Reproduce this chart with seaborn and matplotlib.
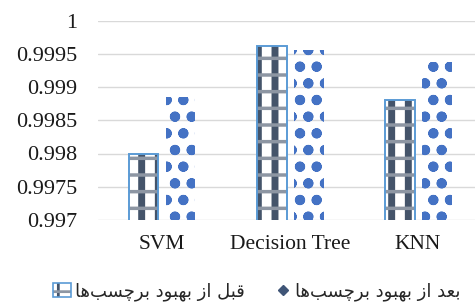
import matplotlib
matplotlib.use("Agg")
import matplotlib.pyplot as plt
import seaborn as sns
import pandas as pd
from matplotlib.patches import Rectangle, Patch
from matplotlib.lines import Line2D
from matplotlib.legend_handler import HandlerTuple

# data
models = ["SVM", "Decision Tree", "KNN"]
before = [0.9980, 0.99961, 0.99881]
after = [0.99885, 0.99955, 0.99937]
series_names = ["قبل از بهبود برچسب‌ها", "بعد از بهبود برچسب‌ها"]
y_ticks = [0.997, 0.9975, 0.998, 0.9985, 0.999, 0.9995, 1.0]

DARK = "#44546A"
EDGE = "#5B9BD5"
DOTS = "#4472C4"
BAND = "#8d96a3"

# minimal Persian shaping (matplotlib has no complex text layout)
FORMS = {  # isolated, final, initial, medial
    "ا": ("\ufe8d", "\ufe8e", None, None),
    "ب": ("\ufe8f", "\ufe90", "\ufe91", "\ufe92"),
    "د": ("\ufea9", "\ufeaa", None, None),
    "ر": ("\ufead", "\ufeae", None, None),
    "ز": ("\ufeaf", "\ufeb0", None, None),
    "س": ("\ufeb1", "\ufeb2", "\ufeb3", "\ufeb4"),
    "ع": ("\ufec9", "\ufeca", "\ufecb", "\ufecc"),
    "ق": ("\ufed5", "\ufed6", "\ufed7", "\ufed8"),
    "ل": ("\ufedd", "\ufede", "\ufedf", "\ufee0"),
    "ه": ("\ufee9", "\ufeea", "\ufeeb", "\ufeec"),
    "و": ("\ufeed", "\ufeee", None, None),
    "چ": ("\ufb7a", "\ufb7b", "\ufb7c", "\ufb7d"),
}


def shape(text):
    out = []
    for i, ch in enumerate(text):
        if ch not in FORMS:
            if ch != "\u200c":
                out.append(ch)
            continue
        prev = text[i - 1] if i > 0 else ""
        nxt = text[i + 1] if i + 1 < len(text) else ""
        jp = prev in FORMS and FORMS[prev][2] is not None
        jn = FORMS[ch][2] is not None and nxt in FORMS
        iso, fin, ini, med = FORMS[ch]
        if jp and jn:
            out.append(med)
        elif jp:
            out.append(fin)
        elif jn:
            out.append(ini)
        else:
            out.append(iso)
    return "".join(out[::-1])


def hatch_lw(p, lw):
    if hasattr(p, "set_hatch_linewidth"):
        p.set_hatch_linewidth(lw)
    return p


sns.set_style("white")
plt.rcParams["font.family"] = ["Liberation Serif", "DejaVu Sans"]
plt.rcParams["hatch.linewidth"] = 2.0

df = pd.DataFrame({
    "model": models * 2,
    "value": before + after,
    "series": [series_names[0]] * 3 + [series_names[1]] * 3,
})

fig = plt.figure(figsize=(4.75, 3.07), dpi=100)
ax = fig.add_axes([98 / 475, 87 / 307, 377 / 475, 199.5 / 307])

sns.barplot(data=df, x="model", y="value", hue="series", order=models,
            hue_order=series_names, palette=["white", "white"],
            width=0.578, gap=0.19, legend=False, ax=ax, zorder=2)

# checker look for "before": dark stripes + grey bands + blue outline
for p in ax.containers[0]:
    p.set_facecolor("white")
    p.set_edgecolor(DARK)
    p.set_linewidth(0)
    p.set_hatch("|")
    hatch_lw(p, 5.0)
    x, y = p.get_xy()
    w, h = p.get_width(), p.get_height()
    band = Rectangle((x, y), w, h, facecolor="none", edgecolor=BAND,
                     linewidth=0, hatch="-", zorder=2.1)
    ax.add_patch(hatch_lw(band, 2.5))
    ax.add_patch(Rectangle((x, y), w, h, facecolor="none", edgecolor=EDGE,
                           linewidth=1.4, zorder=2.2))

# dotted look for "after"
for p in ax.containers[1]:
    p.set_facecolor("none")
    p.set_edgecolor(DOTS)
    p.set_linewidth(0)
    p.set_hatch("o.")
    hatch_lw(p, 2.6)

ax.set_xlim(-0.5, 2.445)
ax.set_ylim(0.997, 1.0)
ax.set_yticks(y_ticks, labels=[f"{v:g}" for v in y_ticks])
ax.grid(axis="y", color="#D9D9D9", linewidth=1.0)
ax.set_axisbelow(True)
for s in ax.spines.values():
    s.set_visible(False)
ax.tick_params(axis="y", length=0, pad=15, labelsize=16, labelcolor="#1a1a1a")
ax.tick_params(axis="x", length=0, pad=11, labelsize=15.5, labelcolor="#1a1a1a")
ax.set_xlabel("")
ax.set_ylabel("")

h_before = (
    hatch_lw(Patch(facecolor="white", edgecolor=DARK, linewidth=0, hatch="|"), 3.5),
    hatch_lw(Patch(facecolor="none", edgecolor=BAND, linewidth=0, hatch="-"), 2.0),
    Patch(facecolor="none", edgecolor=EDGE, linewidth=1.2),
)
h_after = Line2D([], [], linestyle="none", marker="D", markersize=5,
                 color="#3F5577")
fig.legend([h_before, h_after], [shape(n) for n in series_names],
           handler_map={tuple: HandlerTuple(ndivide=1)},
           loc="center", bbox_to_anchor=(0.541, 0.05), ncol=2, frameon=False,
           prop={"family": ["DejaVu Sans"], "size": 13},
           handlelength=1.0, handleheight=0.85, handletextpad=0.2,
           columnspacing=1.6)

fig.savefig("out.png", dpi=100)
